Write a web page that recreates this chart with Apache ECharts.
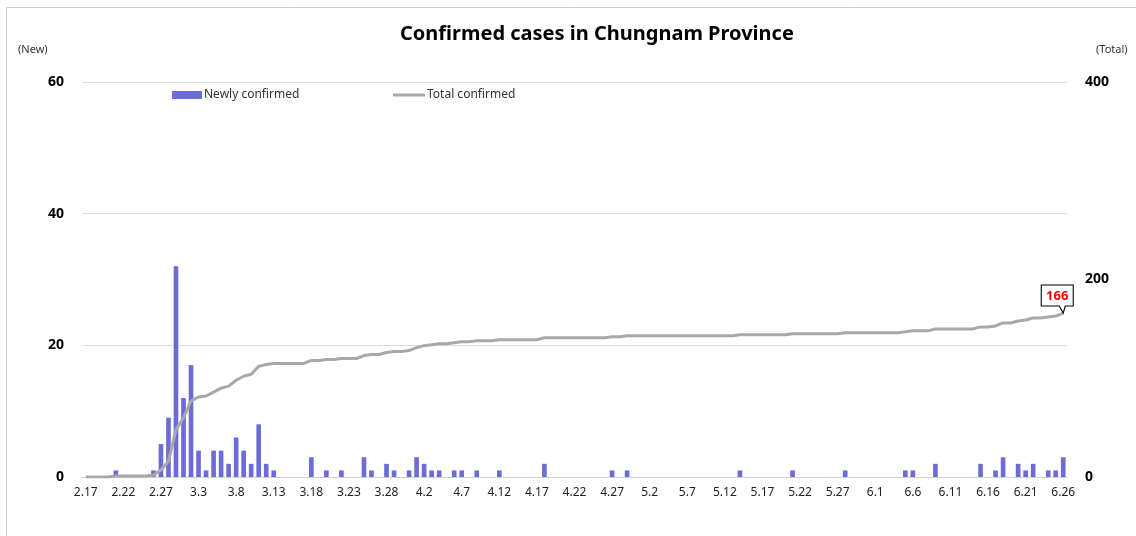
<!DOCTYPE html>
<html>
<head>
<meta charset="utf-8">
<script src="https://cdn.jsdelivr.net/npm/echarts@6/dist/echarts.min.js"></script>
<style>
  html, body { margin: 0; padding: 0; background: #fff; }
  #main { width: 1136px; height: 536px; }
</style>
</head>
<body>
<div id="main"></div>
<script>
// dates 2.17 ~ 6.26
var febDays = ['2.17','2.18','2.19','2.20','2.21','2.22','2.23','2.24','2.25','2.26','2.27','2.28','2.29'];
var marDays = ['3.1','3.2','3.3','3.4','3.5','3.6','3.7','3.8','3.9','3.10','3.11','3.12','3.13','3.14','3.15','3.16','3.17','3.18','3.19','3.20','3.21','3.22','3.23','3.24','3.25','3.26','3.27','3.28','3.29','3.30','3.31'];
var aprDays = ['4.1','4.2','4.3','4.4','4.5','4.6','4.7','4.8','4.9','4.10','4.11','4.12','4.13','4.14','4.15','4.16','4.17','4.18','4.19','4.20','4.21','4.22','4.23','4.24','4.25','4.26','4.27','4.28','4.29','4.30'];
var mayDays = ['5.1','5.2','5.3','5.4','5.5','5.6','5.7','5.8','5.9','5.10','5.11','5.12','5.13','5.14','5.15','5.16','5.17','5.18','5.19','5.20','5.21','5.22','5.23','5.24','5.25','5.26','5.27','5.28','5.29','5.30','5.31'];
var junDays = ['6.1','6.2','6.3','6.4','6.5','6.6','6.7','6.8','6.9','6.10','6.11','6.12','6.13','6.14','6.15','6.16','6.17','6.18','6.19','6.20','6.21','6.22','6.23','6.24','6.25','6.26'];

// 신규 확진 (New)
var febNew = [0,0,0,0,1,0,0,0,0,1,5,9,32];
var marNew = [12,17,4,1,4,4,2,6,4,2, 8,2,1,0,0,0,0,3,0,1, 0,1,0,0,3,1,0,2,1,0, 1];
var aprNew = [3,2,1,1,0,1,1,0,1,0, 0,1,0,0,0,0,0,2,0,0, 0,0,0,0,0,0,1,0,1,0];
var mayNew = [0,0,0,0,0,0,0,0,0,0, 0,0,0,1,0,0,0,0,0,0, 1,0,0,0,0,0,0,1,0,0, 0];
var junNew = [0,0,0,0,1,1,0,0,2,0, 0,0,0,0,2,0,1,3,0,2, 1,2,0,1,1,3];

// 누적 확진 (Total)
var febTotal = [0,0,0,0,1,1,1,1,1,2,7,16,48];
var marTotal = [60,77,81,82,86,90,92,98,102,104, 112,114,115,115,115,115,115,118,118,119, 119,120,120,120,123,124,124,126,127,127, 128];
var aprTotal = [131,133,134,135,135,136,137,137,138,138, 138,139,139,139,139,139,139,141,141,141, 141,141,141,141,141,141,142,142,143,143];
var mayTotal = [143,143,143,143,143,143,143,143,143,143, 143,143,143,144,144,144,144,144,144,144, 145,145,145,145,145,145,145,146,146,146, 146];
var junTotal = [146,146,146,146,147,148,148,148,150,150, 150,150,150,150,152,152,153,156,156,158, 159,161,161,162,163,166];

var leftTicks = [0, 60, 20];   // min, max, interval
var rightTicks = [0, 400, 200];

var categories = febDays.concat(marDays, aprDays, mayDays, junDays);
var newConfirmed = febNew.concat(marNew, aprNew, mayNew, junNew);
var totalConfirmed = febTotal.concat(marTotal, aprTotal, mayTotal, junTotal);

var lastIdx = categories.length - 1;
var fontName = '"Noto Sans", "Open Sans", sans-serif';

var chart = echarts.init(document.getElementById('main'));
var option = {
  animation: false,
  textStyle: { fontFamily: fontName },
  title: {
    text: 'Confirmed cases in Chungnam Province',
    left: 395,
    top: 19,
    textStyle: { fontSize: 20, fontWeight: 'bold', color: '#000', fontFamily: fontName }
  },
  graphic: [
    { type: 'rect', shape: { x: 6.5, y: 7.5, width: 1140, height: 540 },
      style: { fill: 'none', stroke: '#d0d0d0', lineWidth: 1 }, silent: true },
    { type: 'text', left: 18, top: 44,
      style: { text: '(New)', fontSize: 11, fill: '#333', fontFamily: fontName } },
    { type: 'text', left: 1096, top: 44,
      style: { text: '(Total)', fontSize: 11, fill: '#333', fontFamily: fontName } }
  ],
  legend: [
    {
      left: 167,
      top: 84,
      itemWidth: 30,
      itemHeight: 8,
      textStyle: { fontSize: 12, color: '#333', padding: [0, 0, 0, -3] },
      data: [{ name: 'Newly confirmed', icon: 'rect' }]
    },
    {
      left: 388,
      top: 84,
      itemWidth: 32,
      itemHeight: 3,
      textStyle: { fontSize: 12, color: '#333', padding: [0, 0, 0, -3] },
      data: [{ name: 'Total confirmed', icon: 'rect' }]
    }
  ],
  grid: { left: 82, right: 69, top: 82, bottom: 59 },
  xAxis: {
    type: 'category',
    data: categories,
    axisLine: { lineStyle: { color: '#d0d0d0' } },
    axisTick: { interval: 4, length: 4, lineStyle: { color: '#d0d0d0' } },
    axisLabel: { interval: 4, color: '#222', fontSize: 12, margin: 10 }
  },
  yAxis: [
    {
      type: 'value',
      min: leftTicks[0], max: leftTicks[1], interval: leftTicks[2],
      axisLine: { show: false },
      axisTick: { show: false },
      axisLabel: { color: '#000', fontWeight: 'bold', fontSize: 14, margin: 18 },
      splitLine: { lineStyle: { color: '#dcdcdc' } }
    },
    {
      type: 'value',
      min: rightTicks[0], max: rightTicks[1], interval: rightTicks[2],
      axisLine: { show: false },
      axisTick: { show: false },
      axisLabel: { color: '#000', fontWeight: 'bold', fontSize: 14, margin: 18 },
      splitLine: { show: false }
    }
  ],
  series: [
    {
      name: 'Newly confirmed',
      type: 'bar',
      yAxisIndex: 0,
      data: newConfirmed,
      barCategoryGap: '38%',
      itemStyle: { color: '#6c6cd8' }
    },
    {
      name: 'Total confirmed',
      type: 'line',
      yAxisIndex: 1,
      data: totalConfirmed,
      symbol: 'none',
      lineStyle: { color: '#a8a8a8', width: 3 },
      itemStyle: { color: '#a8a8a8' },
      z: 3,
      markPoint: {
        symbol: 'path://M0,0L32,0L32,21L24,21L22,28L18,21L0,21Z',
        symbolSize: [32, 28],
        symbolOffset: [-6, -14],
        itemStyle: { color: '#fff', borderColor: '#000', borderWidth: 1 },
        label: {
          show: true,
          color: '#ff0000',
          fontWeight: 'bold',
          fontSize: 13,
          offset: [0, -3]
        },
        data: [{ coord: [lastIdx, totalConfirmed[lastIdx]], value: totalConfirmed[lastIdx] }]
      }
    }
  ]
};
chart.setOption(option);
</script>
</body>
</html>
